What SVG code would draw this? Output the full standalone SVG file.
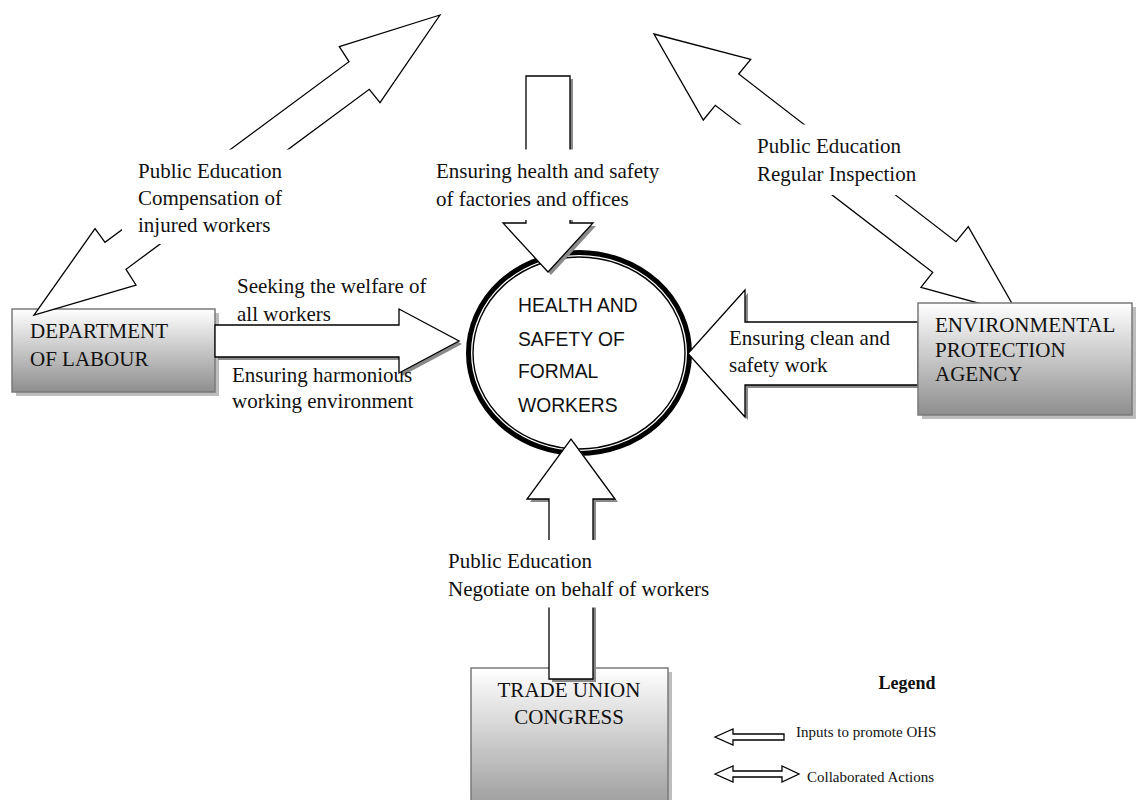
<svg xmlns="http://www.w3.org/2000/svg" width="1142" height="800" viewBox="0 0 1142 800">
<style>
  .lbl { font-family: "Liberation Serif", "Times New Roman", serif; font-size: 21px; fill: #111; }
  .box { stroke: #7a7a7a; stroke-width: 1.5; fill: url(#boxgrad); }
  .boxshadow { fill: #bdbdbd; }
  .blk { fill: #fff; stroke: #000; stroke-width: 1.3; stroke-linejoin: miter; }
  .shd { fill: #8a8a8a; }
  .gap { fill: #fff; }
  .ctr { font-family: "Liberation Sans", Arial, sans-serif; font-size: 19.3px; fill: #111; }
  .leg { font-family: "Liberation Serif", "Times New Roman", serif; font-size: 15px; fill: #111; }
</style>
<defs>
  <linearGradient id="boxgrad" x1="0" y1="0" x2="0" y2="1">
    <stop offset="0" stop-color="#ffffff"/>
    <stop offset="1" stop-color="#8e8e8e"/>
  </linearGradient>
  <polygon id="arrLeft" points="215,325 399,325 399,309 459,341 399,373 399,357 215,357"/>
  <polygon id="arrRight" points="918,322 745,322 745,290 688,353.5 745,417 745,385 918,385"/>
  <polygon id="arrTop" points="526,76 570,76 570,223 593,223 548,272 503,223 526,223"/>
  <polygon id="arrBottom" points="549,679 549,499 527,499 571,439 615,499 593,499 593,679"/>
</defs>
<rect width="1142" height="800" fill="#fff"/>

<g id="node-department-of-labour">
  <rect class="boxshadow" x="16" y="313" width="203" height="83"/>
  <rect class="box" x="12" y="309" width="203" height="83"/>
  <text class="lbl" x="30" y="338" font-size="20">DEPARTMENT</text>
  <text class="lbl" x="30" y="366" font-size="20">OF LABOUR</text>
</g>

<g id="node-trade-union-congress">
  <rect class="boxshadow" x="475" y="672" width="197" height="160"/>
  <rect class="box" x="471" y="668" width="197" height="160"/>
  <text class="lbl" x="569" y="697" text-anchor="middle" font-size="20">TRADE UNION</text>
  <text class="lbl" x="569" y="724" text-anchor="middle" font-size="20">CONGRESS</text>
</g>

<g id="node-center">
  <ellipse cx="579" cy="353" rx="110.5" ry="100.5" fill="#fff" stroke="#000" stroke-width="5"/>
  <ellipse cx="579" cy="353" rx="106" ry="96" fill="none" stroke="#000" stroke-width="1.4"/>
  <text class="ctr" x="518" y="312">HEALTH AND</text>
  <text class="ctr" x="518" y="346">SAFETY OF</text>
  <text class="ctr" x="518" y="378">FORMAL</text>
  <text class="ctr" x="518" y="412">WORKERS</text>
</g>

<g id="connectors">
  <!-- collaboration double arrows -->
  <polygon class="blk" points="654,34 750.7,59.3 738.7,74 956,241.7 968.3,226.7 1018,314 921,287.3 932.7,272.3 715.3,105.3 703.3,120"/>
  <polygon class="blk" points="440,15 339.3,46.7 349,61.7 105,242.3 95,228.7 34,315 136,285 126,269.3 369.3,89.3 380,102.7"/>
  <!-- input block arrows with shadows -->
  <use href="#arrLeft" class="shd" transform="translate(3,3)"/>
  <use href="#arrLeft" class="blk"/>
  <use href="#arrRight" class="shd" transform="translate(3,3)"/>
  <use href="#arrRight" class="blk"/>
  <use href="#arrTop" class="shd" transform="translate(3,3)"/>
  <use href="#arrTop" class="blk"/>
  <use href="#arrBottom" class="shd" transform="translate(3,3)"/>
  <use href="#arrBottom" class="blk"/>
  <!-- label backgrounds -->
  <rect class="gap" x="122" y="149.5" width="178" height="94.5"/>
  <rect class="gap" x="430" y="149.5" width="236" height="70.5"/>
  <rect class="gap" x="736" y="124.5" width="190" height="70.5"/>
  <rect class="gap" x="440" y="540" width="280" height="67.5"/>
  <!-- labels -->
  <text class="lbl" x="138" y="178">Public Education</text>
  <text class="lbl" x="138" y="205">Compensation of</text>
  <text class="lbl" x="138" y="232">injured workers</text>
  <text class="lbl" x="436" y="178">Ensuring health and safety</text>
  <text class="lbl" x="436" y="206">of factories and offices</text>
  <text class="lbl" x="757" y="153">Public Education</text>
  <text class="lbl" x="757" y="181">Regular Inspection</text>
  <text class="lbl" x="237" y="293">Seeking the welfare of</text>
  <text class="lbl" x="237" y="321">all workers</text>
  <text class="lbl" x="232" y="382">Ensuring harmonious</text>
  <text class="lbl" x="232" y="408">working environment</text>
  <text class="lbl" x="729" y="345">Ensuring clean and</text>
  <text class="lbl" x="729" y="372">safety work</text>
  <text class="lbl" x="448" y="568">Public Education</text>
  <text class="lbl" x="448" y="596">Negotiate on behalf of workers</text>
</g>

<g id="node-environmental-protection-agency">
  <rect class="boxshadow" x="922" y="307" width="214" height="112"/>
  <rect class="box" x="918" y="303" width="214" height="112"/>
  <text class="lbl" x="935" y="332" font-size="20">ENVIRONMENTAL</text>
  <text class="lbl" x="935" y="357" font-size="20">PROTECTION</text>
  <text class="lbl" x="935" y="381" font-size="20">AGENCY</text>
</g>

<g id="legend">
  <text x="907" y="689" text-anchor="middle" font-family="Liberation Serif, Times New Roman, serif" font-size="18" font-weight="bold" fill="#111">Legend</text>
  <polygon class="blk" points="715,737 733,729 733,734 784,734 784,740 733,740 733,745"/>
  <text class="leg" x="796" y="737">Inputs to promote OHS</text>
  <polygon class="blk" points="715,774 733,766 733,771 782,771 782,766 799,774 782,782 782,777 733,777 733,782"/>
  <text class="leg" x="807" y="782">Collaborated Actions</text>
</g>
</svg>
